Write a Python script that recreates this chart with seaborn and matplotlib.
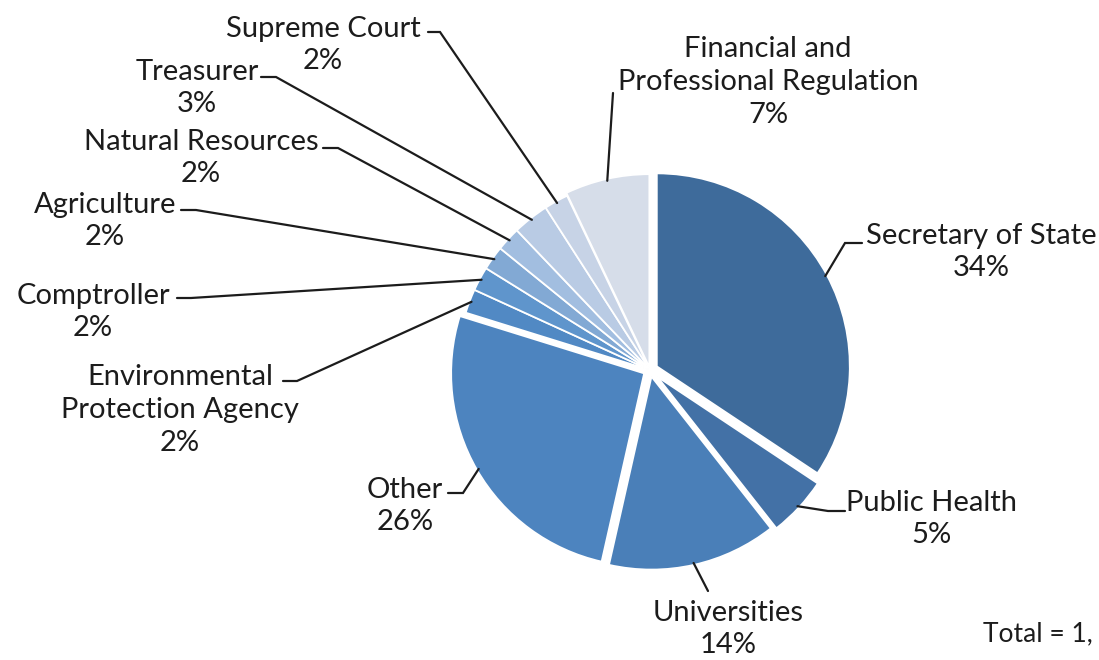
import numpy as np
import matplotlib.pyplot as plt
import seaborn as sns

# ---------- Config ----------
W, H = 1099, 660
OUT = "out.png"

# ---------- Data ----------
departments = [
    "Secretary of State", "Public Health", "Universities", "Other",
    "Environmental\nProtection Agency", "Comptroller", "Agriculture",
    "Natural Resources", "Treasurer", "Supreme Court",
    "Financial and\nProfessional Regulation",
]
shares = [34, 5, 14, 26, 2, 2, 2, 2, 3, 2, 7]
total_text = "Total = 1,"

colors = [
    "#3e6b9b", "#4371a6", "#4a7fb8", "#4d84bf", "#5189c4", "#5f95cc",
    "#82a9d4", "#a2bee0", "#b9cbe4", "#c7d3e6", "#d6dde9",
]
# explode as a fraction of the radius
explode_frac = [0.04, 0.05, 0.035, 0.035, 0.0, 0.0, 0.0, 0.0, 0.0, 0.0, 0.015]

# ---------- Layout (image pixels, y from top) ----------
PIE_CENTER = (650, 370)
PIE_RADIUS = 193
# centre of each text block
label_xy = [
    (981, 252), (931, 519), (728, 629), (405, 506), (180, 410),
    (93, 312), (105, 221), (201, 158), (197, 88), (323, 45), (768, 82),
]
# leader line: stub start -> knee -> wedge edge
stubs = [
    ((862, 243), (845, 243)),
    ((845, 511), (828, 511)),
    ((708, 591), (708, 591)),
    ((448, 493), (463, 493)),
    ((283, 381), (297, 381)),
    ((177, 298), (191, 298)),
    ((181, 210), (196, 210)),
    ((323, 148), (338, 148)),
    ((261, 77), (276, 77)),
    ((428, 32), (440, 32)),
    ((613, 93), (613, 93)),
]

TEXT_COLOR = "#1c1c1c"
FONT_SIZE = 21


def fy(y):
    # image y (from top) -> data y (from bottom)
    return H - y


sns.set_theme(style="white")
plt.rcParams["font.family"] = ["Lato", "DejaVu Sans"]

fig = plt.figure(figsize=(W / 100, H / 100), dpi=100)
ax = fig.add_axes([0, 0, 1, 1])

# matplotlib takes explode in data units, so scale by the radius
wedges, _ = ax.pie(
    shares,
    colors=colors,
    explode=[e * PIE_RADIUS for e in explode_frac],
    startangle=90,
    counterclock=False,
    center=(PIE_CENTER[0], fy(PIE_CENTER[1])),
    radius=PIE_RADIUS,
    wedgeprops=dict(edgecolor="white", linewidth=1.3),
)

for w, name, share, (tx, ty), (s0, s1) in zip(wedges, departments, shares, label_xy, stubs):
    mid = np.deg2rad((w.theta1 + w.theta2) / 2)
    ax_x = w.center[0] + w.r * 0.99 * np.cos(mid)
    ax_y = w.center[1] + w.r * 0.99 * np.sin(mid)
    ax.plot([s0[0], s1[0], ax_x], [fy(s0[1]), fy(s1[1]), ax_y],
            color=TEXT_COLOR, lw=1.6, solid_joinstyle="miter")
    ax.text(tx, fy(ty), f"{name}\n{share}%", ha="center", va="center",
            multialignment="center", fontsize=FONT_SIZE, color=TEXT_COLOR,
            linespacing=1.32)

# the reference crops this note at the right edge; keep it just inside
ax.text(1093, fy(634), total_text, ha="right", va="center",
        fontsize=FONT_SIZE - 2, color=TEXT_COLOR)

ax.set_xlim(0, W)
ax.set_ylim(0, H)
ax.set_aspect("equal")
ax.axis("off")

fig.savefig(OUT, dpi=100, facecolor="white")
print(f"Saved plot: {OUT}")
